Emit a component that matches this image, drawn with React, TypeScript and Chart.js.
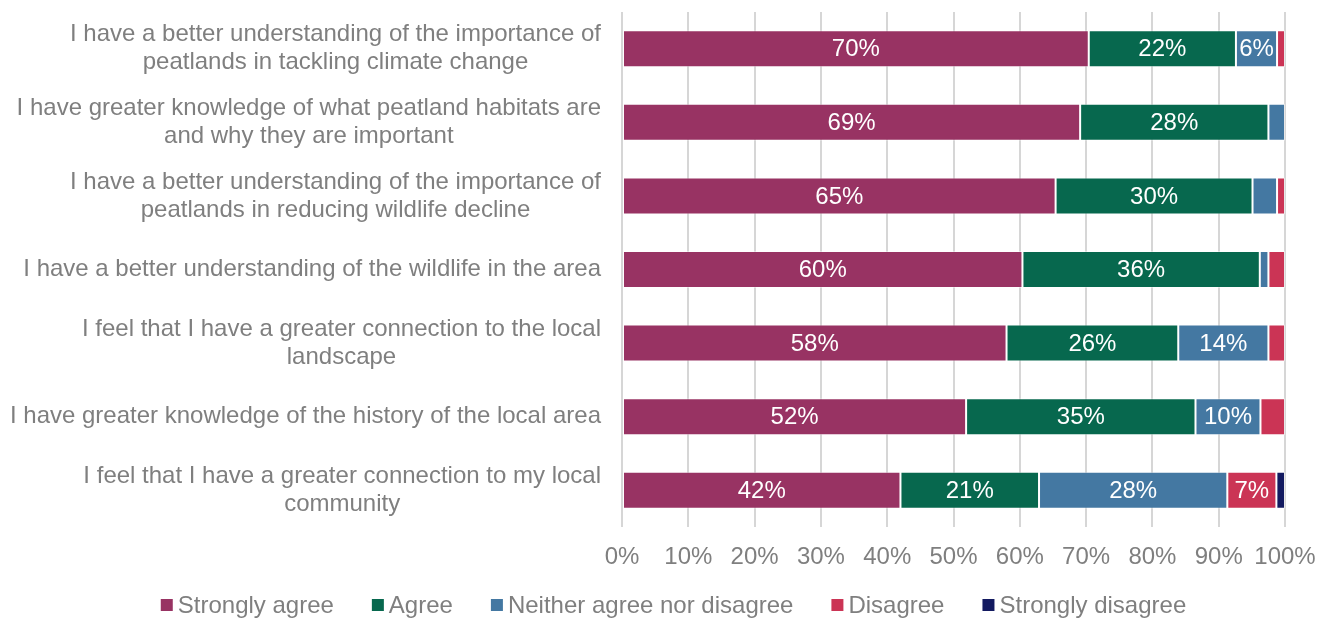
import { useEffect, useRef } from "react";
import { Chart, registerables } from "chart.js";

Chart.register(...registerables);

// Survey statements (each entry is the wrapped lines of one label)
const statements: string[][] = [
  ["I have a better understanding of the importance of", "peatlands in tackling climate change"],
  ["I have greater knowledge of what peatland habitats are", "and why they are important"],
  ["I have a better understanding of the importance of", "peatlands in reducing wildlife decline"],
  ["I have a better understanding of the wildlife in the area"],
  ["I feel that I have a greater connection to the local", "landscape"],
  ["I have greater knowledge of the history of the local area"],
  ["I feel that I have a greater connection to my local", "community"],
];

// Share of respondents (%) per response
const stronglyAgree = [70.4, 69.1, 65.4, 60.4, 58.0, 51.9, 42.0];
const agree = [22.2, 28.4, 29.7, 35.8, 25.9, 34.6, 20.9];
const neither = [6.2, 2.5, 3.7, 1.3, 13.6, 9.8, 28.4];
const disagree = [1.2, 0, 1.2, 2.5, 2.5, 3.7, 7.4];
const stronglyDisagree = [0, 0, 0, 0, 0, 0, 1.3];

const seriesNames = [
  "Strongly agree",
  "Agree",
  "Neither agree nor disagree",
  "Disagree",
  "Strongly disagree",
];
const seriesColors = ["#983363", "#07684e", "#4478a2", "#cb3455", "#131a60"];

// Percent axis ticks
const axisTicks = [0, 10, 20, 30, 40, 50, 60, 70, 80, 90, 100];

const FONT = '"Liberation Sans", Arial, sans-serif';
const TEXT_GREY = "#7f7f7f";
const FONT_SIZE = 24;
const LABEL_MIN = 5;

const statementLabels = {
  id: "statementLabels",
  afterDraw(chart: any) {
    const { ctx } = chart;
    const yScale = chart.scales.y;
    const rightEdge = chart.chartArea.left - 21;
    const lineH = 28;
    ctx.save();
    ctx.font = `${FONT_SIZE}px ${FONT}`;
    ctx.fillStyle = TEXT_GREY;
    ctx.textAlign = "center";
    ctx.textBaseline = "middle";
    statements.forEach((lines, i) => {
      const y = yScale.getPixelForValue(i);
      const w = Math.max(...lines.map((l) => ctx.measureText(l).width));
      const cx = rightEdge - w / 2;
      lines.forEach((line, j) => {
        ctx.fillText(line, cx, y + (j - (lines.length - 1) / 2) * lineH);
      });
    });
    ctx.restore();
  },
};

const valueLabels = {
  id: "valueLabels",
  afterDatasetsDraw(chart: any) {
    const { ctx } = chart;
    ctx.save();
    ctx.font = `${FONT_SIZE}px ${FONT}`;
    ctx.fillStyle = "#ffffff";
    ctx.textAlign = "center";
    ctx.textBaseline = "middle";
    chart.data.datasets.forEach((ds: any, di: number) => {
      const meta = chart.getDatasetMeta(di);
      meta.data.forEach((bar: any, i: number) => {
        const v = ds.data[i];
        if (v < LABEL_MIN) return;
        const { x, y } = bar.getCenterPoint();
        ctx.fillText(`${Math.round(v)}%`, x, y + 1);
      });
    });
    ctx.restore();
  },
};

const bottomLegend = {
  id: "bottomLegend",
  afterDraw(chart: any) {
    const { ctx, width } = chart;
    const box = 12;
    const boxGap = 5;
    const itemGap = 38;
    ctx.save();
    ctx.font = `${FONT_SIZE}px ${FONT}`;
    ctx.textBaseline = "middle";
    ctx.textAlign = "left";
    const widths = seriesNames.map((n) => ctx.measureText(n).width);
    const total =
      widths.reduce((a, b) => a + b, 0) +
      seriesNames.length * (box + boxGap) +
      (seriesNames.length - 1) * itemGap;
    let x = width / 2 + 15 - total / 2;
    const cy = 606;
    seriesNames.forEach((name, i) => {
      ctx.fillStyle = seriesColors[i];
      ctx.fillRect(x, cy - box / 2 - 1, box, box);
      x += box + boxGap;
      ctx.fillStyle = TEXT_GREY;
      ctx.fillText(name, x, cy);
      x += widths[i] + itemGap;
    });
    ctx.restore();
  },
};

export default function App() {
  const canvasRef = useRef<HTMLCanvasElement | null>(null);

  useEffect(() => {
    if (!canvasRef.current) return;
    const values = [stronglyAgree, agree, neither, disagree, stronglyDisagree];
    const chart = new Chart(canvasRef.current, {
      type: "bar",
      data: {
        labels: statements.map((s) => s.join(" ")),
        datasets: seriesNames.map((name, i) => ({
          label: name,
          data: values[i],
          backgroundColor: seriesColors[i],
          borderColor: "rgba(255,255,255,0.45)",
          borderWidth: 1,
          borderSkipped: false,
          barPercentage: 0.503,
          categoryPercentage: 1,
        })),
      },
      options: {
        indexAxis: "y",
        responsive: false,
        animation: false,
        layout: { padding: { top: 12, right: 32, left: 0, bottom: 0 } },
        scales: {
          x: {
            stacked: true,
            min: 0,
            max: 100,
            afterBuildTicks: (scale: any) => {
              scale.ticks = axisTicks.map((v) => ({ value: v }));
            },
            afterFit: (scale: any) => {
              scale.height = 93;
              scale.paddingLeft = 0;
              scale.paddingRight = 0;
            },
            ticks: {
              color: TEXT_GREY,
              font: { family: FONT, size: FONT_SIZE },
              padding: 16,
              maxRotation: 0,
              callback: (v: any) => `${v}%`,
            },
            grid: { color: "#d6d6d6", lineWidth: 2, drawTicks: false },
            border: { display: false },
          },
          y: {
            stacked: true,
            afterFit: (scale: any) => {
              scale.width = 622;
            },
            ticks: { display: false },
            grid: { display: false },
            border: { display: false },
          },
        },
        plugins: {
          legend: { display: false },
          tooltip: { enabled: false },
        },
      },
      plugins: [valueLabels, statementLabels, bottomLegend],
    });
    return () => chart.destroy();
  }, []);

  return (
    <div style={{ position: "absolute", left: 0, top: 0, width: 1317, height: 620, background: "#fff" }}>
      <canvas ref={canvasRef} width={1317} height={620} />
    </div>
  );
}
